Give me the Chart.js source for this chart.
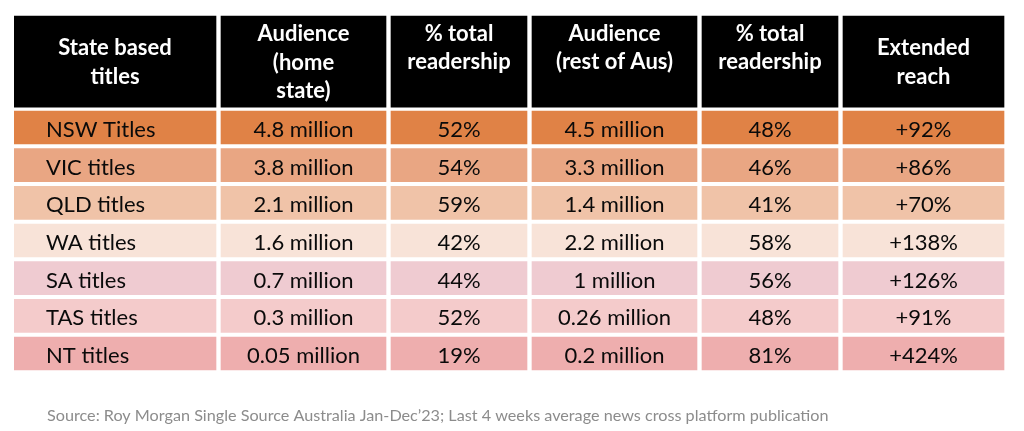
<!DOCTYPE html>
<html>
<head>
<meta charset="utf-8">
<script src="https://cdn.jsdelivr.net/npm/chart.js@4.4.1/dist/chart.umd.min.js"></script>
<style>
  html, body { margin: 0; padding: 0; background: #fff; }
  canvas { display: block; }
</style>
</head>
<body>
<canvas id="reachTable" width="1024" height="431"></canvas>
<script>
// table content
const stateTitles = ["NSW Titles", "VIC titles", "QLD titles", "WA titles", "SA titles", "TAS titles", "NT titles"];
const homeAudience = [4.8, 3.8, 2.1, 1.6, 0.7, 0.3, 0.05];   // million
const homeShare = [52, 54, 59, 42, 44, 52, 19];               // %
const restAudience = [4.5, 3.3, 1.4, 2.2, 1, 0.26, 0.2];      // million
const restShare = [48, 46, 41, 58, 56, 48, 81];               // %
const extendedReach = [92, 86, 70, 138, 126, 91, 424];        // %

const headerLines = [
    ["State based", "titles"],
    ["Audience", "(home", "state)"],
    ["% total", "readership"],
    ["Audience", "(rest of Aus)"],
    ["% total", "readership"],
    ["Extended", "reach"]
];
const sourceNote = "Source: Roy Morgan Single Source Australia Jan-Dec\u201923; Last 4 weeks average news cross platform publication";

// layout / style
const colSpans = [207, 170, 141, 170, 141, 166];
const cellGap = 5;
const headerAlign = ["middle", "middle", "top", "top", "top", "middle"];
const rowColors = ["#e08246", "#e9a683", "#f0c3a8", "#f8e3d8", "#efcbd1", "#f4cbcb", "#eeaeae"];
const fontFamily = "Lato, 'Open Sans', sans-serif";

function cellText(row, col) {
    switch (col) {
        case 0: return stateTitles[row];
        case 1: return homeAudience[row] + " million";
        case 2: return homeShare[row] + "%";
        case 3: return restAudience[row] + " million";
        case 4: return restShare[row] + "%";
        default: return "+" + extendedReach[row] + "%";
    }
}

let colStarts = [];
let acc = 0;
colSpans.forEach(w => { colStarts.push(acc); acc += w; });
const tableWidth = acc;

let headerCells = colStarts.map((s, c) => ({ x: [s, s + colSpans[c] - cellGap], y: -1.75 }));
let bodyCells = [];
let bodyColors = [];
stateTitles.forEach((t, r) => {
    colStarts.forEach((s, c) => {
        bodyCells.push({ x: [s, s + colSpans[c] - cellGap], y: r });
        bodyColors.push(rowColors[r]);
    });
});

const cellLabels = {
    id: "cellLabels",
    afterDatasetsDraw(chart) {
        let ctx = chart.ctx;
        ctx.save();

        // header text
        ctx.fillStyle = "#ffffff";
        ctx.font = "bold 22px " + fontFamily;
        ctx.textAlign = "center";
        ctx.textBaseline = "alphabetic";
        chart.getDatasetMeta(0).data.forEach((el, c) => {
            let lines = headerLines[c];
            let cx = (el.x + el.base) / 2;
            let first = headerAlign[c] === "top" ? el.y - 21 : el.y + 8 - (lines.length - 1) * 28.5 / 2;
            lines.forEach((line, i) => ctx.fillText(line, cx, first + i * 28.5));
        });

        // body text
        ctx.fillStyle = "#0a0a0a";
        ctx.font = "22px " + fontFamily;
        chart.getDatasetMeta(1).data.forEach((el, i) => {
            let col = i % colSpans.length;
            let row = Math.floor(i / colSpans.length);
            let left = Math.min(el.x, el.base);
            if (col === 0) {
                ctx.textAlign = "left";
                ctx.fillText(cellText(row, col), left + 32, el.y + 9.5);
            } else {
                ctx.textAlign = "center";
                ctx.fillText(cellText(row, col), (el.x + el.base) / 2, el.y + 9.5);
            }
        });

        // source line
        ctx.fillStyle = "#8c8c8c";
        ctx.font = "16.2px " + fontFamily;
        ctx.textAlign = "left";
        ctx.fillText(sourceNote, 47, 421);
        ctx.restore();
    }
};

new Chart(document.getElementById("reachTable").getContext("2d"), {
    type: "bar",
    data: {
        datasets: [{
            data: headerCells,
            backgroundColor: "#000000",
            barThickness: 91,
            grouped: false
        }, {
            data: bodyCells,
            backgroundColor: bodyColors,
            barThickness: 33,
            grouped: false
        }]
    },
    options: {
        indexAxis: "y",
        responsive: false,
        animation: false,
        layout: { padding: { left: 14, right: 1024 - 14 - tableWidth, top: 14.5, bottom: 58.7 } },
        scales: {
            x: { type: "linear", min: 0, max: tableWidth, display: false },
            y: { type: "linear", min: -3, max: 6.5, reverse: true, offset: false, display: false }
        },
        plugins: {
            legend: { display: false },
            tooltip: { enabled: false }
        }
    },
    plugins: [cellLabels]
});
</script>
</body>
</html>
